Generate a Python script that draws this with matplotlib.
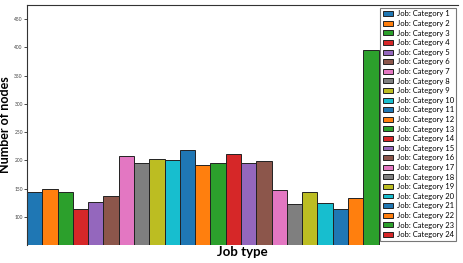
import matplotlib
matplotlib.use("Agg")
import matplotlib.pyplot as plt

plt.rcParams["font.family"] = ["Lato", "DejaVu Sans"]

categories = [f"Job: Category {i}" for i in range(1, 25)]
nodes = [143, 150, 143, 113, 127, 137, 208, 196, 203, 201, 219, 191,
         196, 212, 196, 199, 148, 123, 144, 124, 113, 133, 395, 0]

colors = plt.rcParams["axes.prop_cycle"].by_key()["color"]

fig = plt.figure(figsize=(4.63, 2.63), dpi=100)
ax = fig.add_axes([27 / 463, 18 / 263, 431 / 463, 240 / 263])

for i, (name, val) in enumerate(zip(categories, nodes)):
    ax.bar(i, val, width=1.0, color=colors[i % len(colors)],
           edgecolor="#222222", linewidth=0.7, label=name)

ax.set_xlim(-0.5, 27.7)
ax.set_ylim(50, 475)
ax.set_yticks([100, 150, 200, 250, 300, 350, 400, 450])
ax.tick_params(axis="y", labelsize=3.5, length=2, width=0.5, pad=1,
               labelcolor="#444444")
ax.set_xticks([])
ax.spines["bottom"].set_visible(False)
ax.spines["right"].set_visible(False)
for s in ["left", "top"]:
    ax.spines[s].set_linewidth(0.8)
    ax.spines[s].set_color("#333333")

ax.set_ylabel("Number of nodes", fontsize=9, fontweight="bold")
ax.yaxis.set_label_coords(-0.038, 0.5)
ax.set_xlabel("Job type", fontsize=9.5, fontweight="bold", labelpad=1)

leg = ax.legend(loc="upper right", fontsize=5.5, frameon=True, fancybox=False,
                edgecolor="#555555", handlelength=1.4, handleheight=0.6,
                labelspacing=0.34, borderpad=0.35, handletextpad=0.4,
                borderaxespad=0.2, bbox_to_anchor=(1.0, 0.995))
leg.get_frame().set_linewidth(0.8)

fig.savefig("out.png", dpi=100)
